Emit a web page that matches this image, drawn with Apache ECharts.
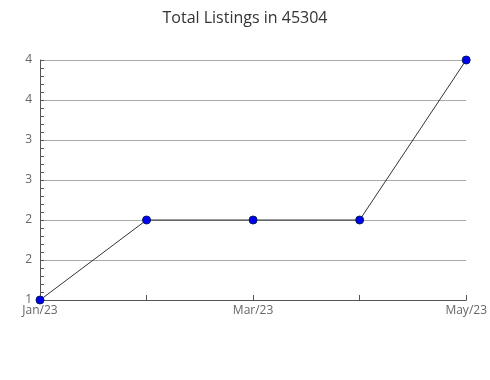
<!DOCTYPE html>
<html><head><meta charset="utf-8">
<script src="https://cdn.jsdelivr.net/npm/echarts@6/dist/echarts.min.js"></script>
<style>html,body{margin:0;padding:0;background:#fff}#c{width:490px;height:380px}</style>
</head><body><div id="c"></div>
<script>
const titleText = "Total Listings in 45304";
const categories = ["Jan/23", "Feb/23", "Mar/23", "Apr/23", "May/23"];
const listings = [1, 2, 2, 2, 4];
const yMin = 1, yMax = 4, yStep = 0.5;

const chart = echarts.init(document.getElementById('c'), null, {renderer: 'canvas'});
chart.setOption({
  animation: false,
  title: {
    text: titleText, left: 'center', top: 5,
    textStyle: {fontFamily: 'Open Sans', fontWeight: 'normal', fontSize: 16, color: '#333'}
  },
  grid: {left: 40, right: 19, top: 60, bottom: 80, containLabel: false},
  xAxis: {
    type: 'category', data: categories, boundaryGap: false,
    axisLine: {lineStyle: {color: '#555', width: 1}},
    axisTick: {show: true, inside: true, length: 5, interval: 0, lineStyle: {color: '#555'}},
    axisLabel: {interval: 1, margin: 5, fontFamily: 'Open Sans', fontSize: 12, color: '#666'},
    splitLine: {show: false}
  },
  yAxis: {
    type: 'value', min: yMin, max: yMax, interval: yStep,
    axisLine: {show: true, lineStyle: {color: '#555', width: 1}},
    axisTick: {show: true, inside: true, length: 4, lineStyle: {color: '#555'}},
    minorTick: {show: true, splitNumber: 5, length: 4, lineStyle: {color: '#555'}},
    axisLabel: {margin: 8, fontFamily: 'Open Sans', fontSize: 12, color: '#666',
      formatter: v => String(Math.round(v))},
    splitLine: {show: true, lineStyle: {color: '#aaa', width: 1}}
  },
  series: [{
    type: 'line', data: listings,
    lineStyle: {color: '#000', width: 0.8},
    symbol: 'circle', symbolSize: 8,
    itemStyle: {color: '#0000ee', borderColor: '#001a66', borderWidth: 1}
  }]
});
</script>
</body></html>
